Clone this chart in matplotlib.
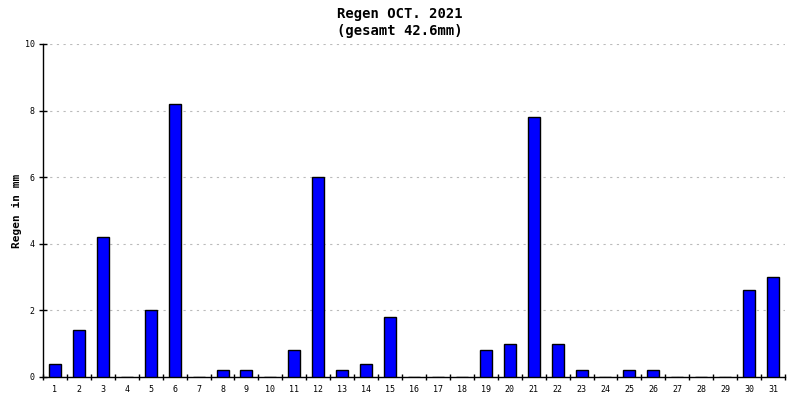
import numpy as np
import matplotlib.pyplot as plt
from matplotlib.ticker import FixedLocator

days = list(range(1, 32))
rain = [0.4, 1.4, 4.2, 0.0, 2.0, 8.2, 0.0, 0.2, 0.2, 0.0,
        0.8, 6.0, 0.2, 0.4, 1.8, 0.0, 0.0, 0.0, 0.8, 1.0,
        7.8, 1.0, 0.2, 0.0, 0.2, 0.2, 0.0, 0.0, 0.0, 2.6, 3.0]
y_ticks = [0, 2, 4, 6, 8, 10]

mono = 'DejaVu Sans Mono'

fig = plt.figure(figsize=(8, 4), dpi=100)
ax = fig.add_axes([43 / 800, 23 / 400, 742 / 800, 333 / 400])

ax.bar(days, rain, width=0.5, color='#0000ff', edgecolor='black', linewidth=1, zorder=3)

ax.set_xlim(0.5, 31.5)
ax.set_ylim(0, 10)

ax.set_xticks(days)
ax.set_xticklabels([str(d) for d in days], fontsize=6, family=mono)
ax.xaxis.set_minor_locator(FixedLocator(np.arange(0.5, 32, 1)))
ax.tick_params(axis='x', which='major', length=0, pad=6)
ax.tick_params(axis='x', which='minor', length=5, width=1, direction='inout')

ax.set_yticks(y_ticks)
ax.set_yticklabels([str(v) for v in y_ticks], fontsize=6, family=mono)
ax.tick_params(axis='y', length=6, width=1, direction='inout', pad=3)

ax.grid(axis='y', color='#bbbbbb', linestyle=(0, (2, 4)), linewidth=0.8, zorder=0)

for s in ['top', 'right']:
    ax.spines[s].set_visible(False)
for s in ['left', 'bottom']:
    ax.spines[s].set_linewidth(1)

ax.set_ylabel('Regen in mm', fontsize=8, family=mono, fontweight='bold', labelpad=2)

fig.text(0.5, 1 - 14 / 400, 'Regen OCT. 2021', ha='center', va='center',
         fontsize=10, family=mono, fontweight='bold')
fig.text(0.5, 1 - 31 / 400, '(gesamt 42.6mm)', ha='center', va='center',
         fontsize=10, family=mono, fontweight='bold')

fig.savefig('out.png', dpi=100)
